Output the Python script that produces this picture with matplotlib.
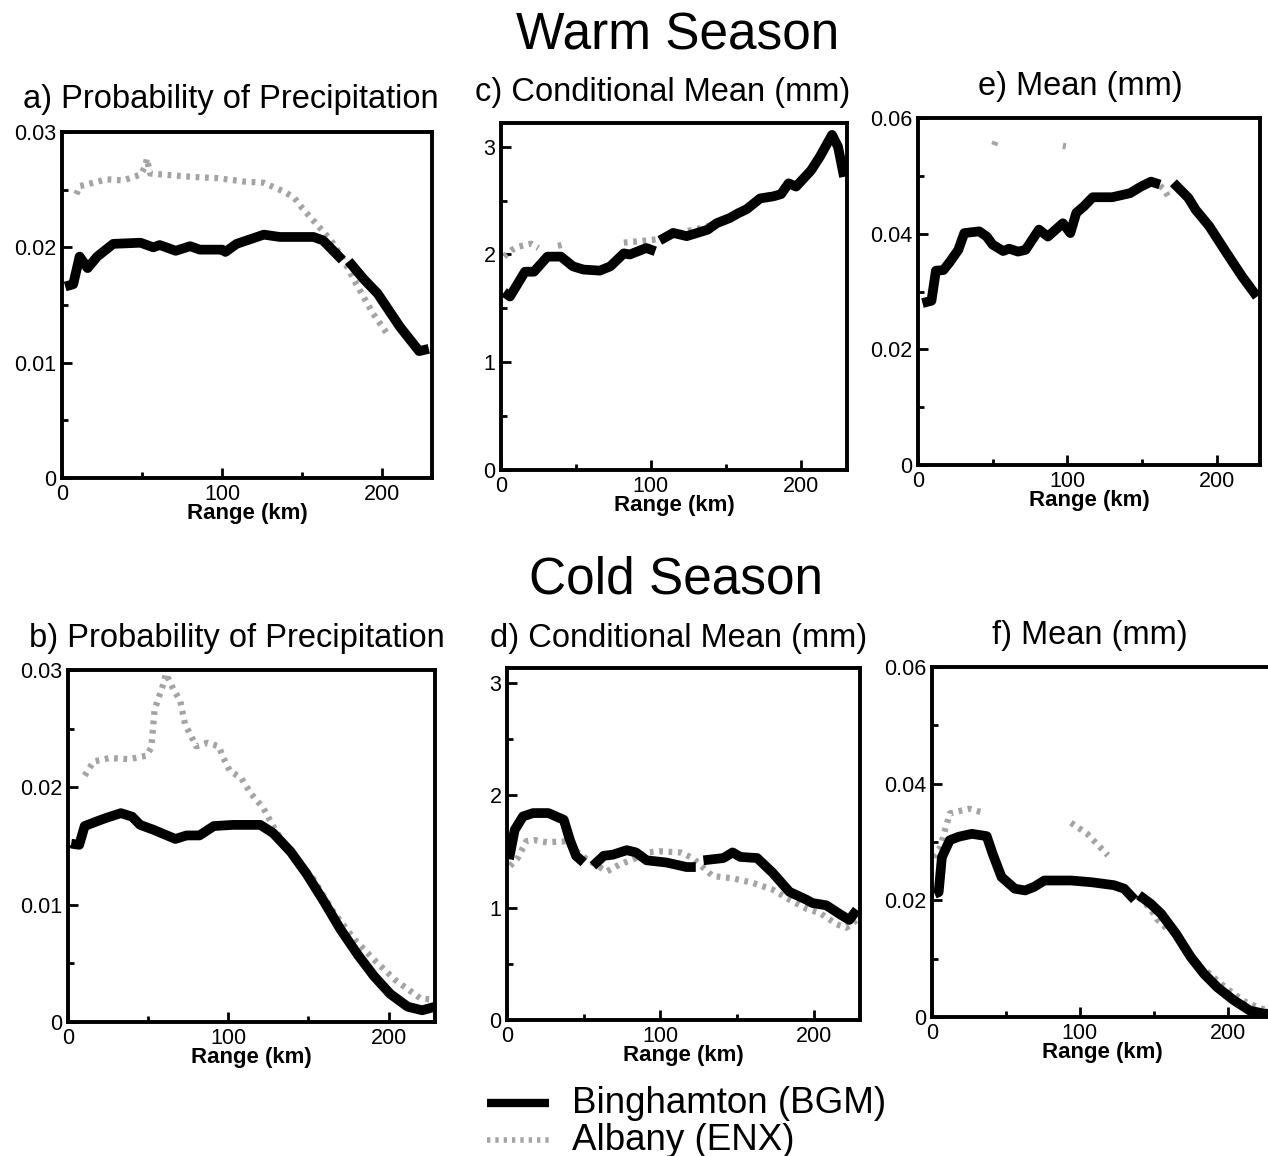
import numpy as np
import matplotlib
matplotlib.use("Agg")
import matplotlib.pyplot as plt
from matplotlib.lines import Line2D

plt.rcParams['font.family'] = ['Liberation Sans', 'DejaVu Sans']

W, H = 1268, 1156
nan = np.nan

# ---------------- data ----------------
# a) warm season probability of precipitation
a_bgm_x = [2, 7, 11, 16, 22, 32, 49, 57, 61, 71, 80, 86, 100, 102, 109, 126, 136, 157, 163, 175, nan, 179, 188, 197, 211, 223, 229]
a_bgm_y = [0.0166, 0.0168, 0.0192, 0.0182, 0.0192, 0.0203, 0.0204, 0.0200, 0.0202, 0.0197, 0.0201, 0.0198, 0.0198, 0.0196,
           0.0203, 0.0211, 0.0209, 0.0209, 0.0206, 0.0189, nan, 0.0188, 0.0173, 0.0160, 0.0131, 0.0110, 0.0112]
a_enx_x = [9, 11, 28, 38, 49, 52, 53, 55, 82, 97, 114, 126, 139, 145, 150, 168, 175, 183, 194, 203]
a_enx_y = [0.0246, 0.0253, 0.0259, 0.0258, 0.0263, 0.0270, 0.0277, 0.0264, 0.0261, 0.0260, 0.0257, 0.0256, 0.0248, 0.0243,
           0.0234, 0.0206, 0.0191, 0.0170, 0.0143, 0.0125]

# c) warm season conditional mean (mm)
c_bgm_x = [2, 6, 16, 22, 31, 40, 48, 55, 66, 73, 82, 86, 97, 103, nan, 106, 115, 124, 138, 144, 153, 158, 164, 173, 182, 187,
           192, 197, 207, 213, 221, 225, 229]
c_bgm_y = [1.65, 1.61, 1.84, 1.84, 1.98, 1.98, 1.89, 1.86, 1.85, 1.89, 2.01, 2.00, 2.06, 2.03, nan, 2.13, 2.20, 2.17, 2.23,
           2.29, 2.34, 2.38, 2.42, 2.52, 2.54, 2.56, 2.66, 2.63, 2.78, 2.91, 3.11, 3.00, 2.72]
c_enx_x = [2, 7, 11, 20, 25, nan, 38, 41, nan, 82, 90, 97, 104, 110, 118, 125, 132, 140, 150]
c_enx_y = [1.98, 2.04, 2.07, 2.10, 2.06, nan, 2.08, 2.09, nan, 2.11, 2.12, 2.13, 2.14, 2.16, 2.19, 2.22, 2.24, 2.27, 2.30]

# e) warm season mean (mm)
e_bgm_x = [3, 9, 12, 17, 21, 27, 31, 41, 46, 50, 57, 61, 67, 72, 81, 87, 97, 102, 106, 111, 117, 130, 142, 149, 156, 162, nan,
           171, 181, 186, 195, 206, 217, 227]
e_bgm_y = [0.0280, 0.0284, 0.0336, 0.0337, 0.0350, 0.0372, 0.0401, 0.0404, 0.0395, 0.0381, 0.0370, 0.0374, 0.0369, 0.0372,
           0.0407, 0.0395, 0.0418, 0.0401, 0.0436, 0.0447, 0.0463, 0.0463, 0.0470, 0.0481, 0.0490, 0.0485, nan,
           0.0488, 0.0462, 0.0441, 0.0413, 0.0369, 0.0326, 0.0291]
e_enx_x = [51, 52, 54, nan, 97, 99, nan, 162, 165, 168]
e_enx_y = [0.0553, 0.0560, 0.0565, nan, 0.0552, 0.0551, nan, 0.0483, 0.0476, 0.0462]

# b) cold season probability of precipitation
b_bgm_x = [2, 7, 10.4, 18, 24, 33, 40, 45, 53, 67, 74, 82, 91, 103, 120, 128, 139, 149, 160, 170, 181, 191, 201, 212, 221, 229]
b_bgm_y = [0.0152, 0.0151, 0.0167, 0.0171, 0.0174, 0.0178, 0.0175, 0.0168, 0.0164, 0.0156, 0.0159, 0.0159, 0.0167, 0.0168,
           0.0168, 0.0161, 0.0145, 0.0126, 0.0102, 0.0079, 0.0057, 0.0039, 0.0024, 0.0013, 0.0010, 0.0013]
b_enx_x = [10.4, 16, 26, 38, 49, 52, 54, 60, 61, 66, 70, 73, 80, 87, 94, 97, 101, 108, 114, 122, 130, 141, 153, 166, 179,
           191, 204, 220, 229]
b_enx_y = [0.0210, 0.0222, 0.0225, 0.0224, 0.0227, 0.0234, 0.0266, 0.0290, 0.0297, 0.0283, 0.0274, 0.0254, 0.0235, 0.0238,
           0.0235, 0.0225, 0.0214, 0.0208, 0.0195, 0.0182, 0.0162, 0.0142, 0.0122, 0.0093, 0.0070, 0.0053, 0.0036,
           0.0020, 0.0019]

# d) cold season conditional mean (mm)
d_bgm_x = [1.3, 5, 10.4, 17, 27, 32, 37, 41, 45, 50, nan, 56, 63, 69, 78, 84, 91, 104, 117, 123, nan, 128, 141, 147, 152,
           163, 173, 184, 195, 199, 208, 217, 223, 228]
d_bgm_y = [1.43, 1.69, 1.81, 1.84, 1.84, 1.81, 1.78, 1.60, 1.46, 1.40, nan, 1.37, 1.46, 1.47, 1.51, 1.49, 1.42, 1.40, 1.36,
           1.36, nan, 1.42, 1.44, 1.49, 1.45, 1.44, 1.31, 1.14, 1.07, 1.04, 1.02, 0.94, 0.89, 0.98]
d_enx_x = [2, 7, 12.6, 18, 26, 39, 45, 52, 65, 73, 84, 91, 100, 113, 121, 134, 147, 160, 173, 184, 195, 204, 215, 221, 228]
d_enx_y = [1.37, 1.44, 1.59, 1.60, 1.58, 1.59, 1.50, 1.43, 1.32, 1.38, 1.44, 1.49, 1.50, 1.49, 1.44, 1.28, 1.26, 1.22, 1.16,
           1.07, 0.99, 0.95, 0.85, 0.82, 0.89]

# f) cold season mean (mm)
f_bgm_x = [1.8, 4.5, 6.7, 12, 18, 27, 37, 41, 47, 56, 63, 69, 76, 94, 108, 123, 130, 137, nan, 140, 148, 155, 165, 175, 184,
           193, 204, 215, 224, 230]
f_bgm_y = [0.0211, 0.0214, 0.0274, 0.0303, 0.0309, 0.0314, 0.0310, 0.0280, 0.0240, 0.0220, 0.0217, 0.0223, 0.0234, 0.0234,
           0.0231, 0.0226, 0.0220, 0.0201, nan, 0.0209, 0.0194, 0.0177, 0.0143, 0.0103, 0.0074, 0.0051, 0.0029, 0.0011,
           0.0006, 0.0005]
f_enx_x = [1, 5.6, 12, 25, 35, nan, 94, 105, 119, nan, 140, 148, 152, 161, nan, 186, 195, 204, 212, 219, 226]
f_enx_y = [0.0274, 0.0291, 0.0349, 0.0357, 0.0350, nan, 0.0333, 0.0314, 0.0277, nan, 0.0205, 0.0185, 0.0168, 0.0146, nan,
           0.0078, 0.0058, 0.0040, 0.0026, 0.0018, 0.0012]

titles = ["a) Probability of Precipitation", "c) Conditional Mean (mm)", "e) Mean (mm)",
          "b) Probability of Precipitation", "d) Conditional Mean (mm)", "f) Mean (mm)"]
season_titles = ["Warm Season", "Cold Season"]
legend_labels = ["Binghamton (BGM)", "Albany (ENX)"]
x_label = "Range (km)"
x_ticks = [0, 100, 200]
x_minor = [50, 150]
pop_ticks = [0, 0.01, 0.02, 0.03]
pop_labels = ["0", "0.01", "0.02", "0.03"]
cm_ticks = [0, 1, 2, 3]
cm_labels = ["0", "1", "2", "3"]
mean_ticks = [0, 0.02, 0.04, 0.06]
mean_labels = ["0", "0.02", "0.04", "0.06"]

# ---------------- layout ----------------
fig = plt.figure(figsize=(W / 100, H / 100), dpi=100)

def px_axes(l, t, r, b):
    return fig.add_axes([l / W, 1 - b / H, (r - l) / W, (b - t) / H])

panels = [
    # (l, t, r, b), xmax, ymax, yticks, ylabels, yminor, bgm, enx, title, title pos
    ((62, 132, 432, 478), 231, 0.03, pop_ticks, pop_labels, [0.005, 0.015, 0.025],
     (a_bgm_x, a_bgm_y), (a_enx_x, a_enx_y), titles[0], (231, 108)),
    ((501, 123, 847, 470), 231, 3.22, cm_ticks, cm_labels, [0.5, 1.5, 2.5],
     (c_bgm_x, c_bgm_y), (c_enx_x, c_enx_y), titles[1], (663, 101)),
    ((918, 118, 1260, 465), 229, 0.06, mean_ticks, mean_labels, [0.01, 0.03, 0.05],
     (e_bgm_x, e_bgm_y), (e_enx_x, e_enx_y), titles[2], (1080, 95)),
    ((68, 670, 435, 1022), 229, 0.03, pop_ticks, pop_labels, [0.005, 0.015, 0.025],
     (b_bgm_x, b_bgm_y), (b_enx_x, b_enx_y), titles[3], (237, 647)),
    ((507, 668, 860, 1020), 230, 3.13, cm_ticks, cm_labels, [0.5, 1.5, 2.5],
     (d_bgm_x, d_bgm_y), (d_enx_x, d_enx_y), titles[4], (679, 647)),
    ((932, 667, 1272, 1017), 230, 0.06, mean_ticks, mean_labels, [0.01, 0.03, 0.05],
     (f_bgm_x, f_bgm_y), (f_enx_x, f_enx_y), titles[5], (1090, 644)),
]

ENX_COLOR = '#a4a4a4'

for rect, xmax, ymax, yt, yl, ym, bgm, enx, title, tpos in panels:
    ax = px_axes(*rect)
    ax.plot(enx[0], enx[1], color=ENX_COLOR, lw=4.5, linestyle=(0, (0.6, 0.9)),
            solid_capstyle='butt', dash_capstyle='butt', zorder=2)
    ax.plot(bgm[0], bgm[1], color='black', lw=7, solid_capstyle='butt',
            solid_joinstyle='round', zorder=3)
    ax.set_xlim(0, xmax)
    ax.set_ylim(0, ymax)
    ax.set_xticks(x_ticks)
    ax.set_xticklabels([str(v) for v in x_ticks])
    ax.set_xticks(x_minor, minor=True)
    ax.set_yticks(yt)
    ax.set_yticklabels(yl)
    ax.set_yticks(ym, minor=True)
    ax.tick_params(which='both', direction='in', top=False, right=False,
                   labelsize=15.5, width=2, colors='black')
    ax.tick_params(which='major', length=7, pad=4)
    ax.tick_params(which='minor', length=4)
    for s in ax.spines.values():
        s.set_linewidth(2.8)
    ax.set_xlabel(x_label, fontsize=16, fontweight='bold', labelpad=-1)
    fig.text(tpos[0] / W, 1 - tpos[1] / H, title, fontsize=23.5,
             ha='center', va='baseline')

fig.text(678 / W, 1 - 50 / H, season_titles[0], fontsize=37, ha='center', va='baseline')
fig.text(676 / W, 1 - 593 / H, season_titles[1], fontsize=37, ha='center', va='baseline')

# legend
fig.add_artist(Line2D([487 / W, 549 / W], [1 - 1103 / H, 1 - 1103 / H], color='black', lw=6,
                      transform=fig.transFigure, solid_capstyle='butt'))
fig.add_artist(Line2D([487 / W, 549 / W], [1 - 1140 / H, 1 - 1140 / H], color=ENX_COLOR, lw=4,
                      linestyle=(0, (0.6, 0.9)), transform=fig.transFigure))
fig.text(572 / W, 1 - 1113 / H, legend_labels[0], fontsize=26.5, ha='left', va='baseline')
fig.text(572 / W, 1 - 1150 / H, legend_labels[1], fontsize=26.5, ha='left', va='baseline')

fig.savefig("out.png", dpi=100, facecolor='white')
